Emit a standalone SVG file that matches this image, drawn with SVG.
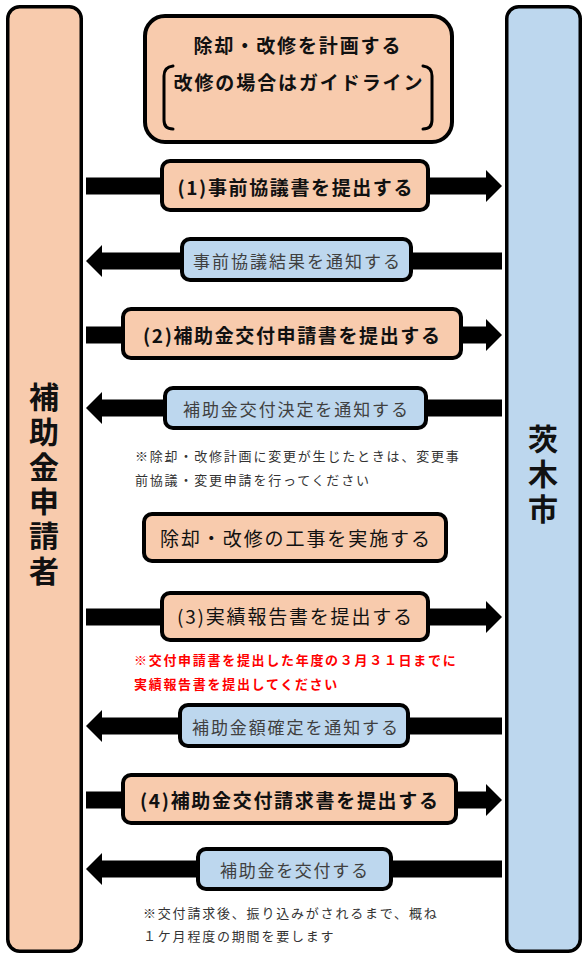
<svg xmlns="http://www.w3.org/2000/svg" width="586" height="963" viewBox="0 0 586 963">
<style>
text{font-family:"Noto Sans CJK JP","Noto Sans",sans-serif;}
.peach{fill:#F8CBAD;stroke:#000;stroke-width:4;}
.blue{fill:#BDD7EE;stroke:#000;stroke-width:4;}
.col{stroke-width:3.5;}
.arr{fill:#000;}
.tb{font-size:19px;font-weight:bold;fill:#111;text-anchor:middle;dominant-baseline:central;}
.tm{font-size:19px;font-weight:normal;fill:#111;text-anchor:middle;dominant-baseline:central;}
.tn{font-size:17px;fill:#404040;text-anchor:middle;dominant-baseline:central;}
.note{font-size:13px;fill:#333;letter-spacing:1.8px;dominant-baseline:central;}
.red{font-size:13px;font-weight:bold;fill:#FF0000;letter-spacing:1.7px;dominant-baseline:central;}
.vt{font-size:30px;font-weight:bold;fill:#111;writing-mode:vertical-rl;letter-spacing:4.7px;}
.br{fill:none;stroke:#000;stroke-width:3;stroke-linecap:round;}
</style>
<defs>
<path id="ra" d="M86,-8.5 H486 V-16 L502,0 L486,16 V8.5 H86 Z"/>
<path id="la" d="M502,-8.5 H102 V-16 L86,0 L102,16 V8.5 H502 Z"/>
</defs>

<g id="applicant">
<rect class="peach col" x="7.75" y="6.75" width="73.5" height="944.5" rx="12"/>
<text class="vt" x="44" y="382">補助金申請者</text>
</g>

<g id="city">
<rect class="blue col" x="506.75" y="6.75" width="73.5" height="944.5" rx="12"/>
<text class="vt" x="543" y="424">茨木市</text>
</g>

<g id="connectors" class="arr">
<use href="#ra" transform="translate(0,186)"/>
<use href="#la" transform="translate(0,261)"/>
<use href="#ra" transform="translate(0,335)"/>
<use href="#la" transform="translate(0,408)"/>
<use href="#ra" transform="translate(0,617)"/>
<use href="#la" transform="translate(0,726)"/>
<use href="#ra" transform="translate(0,800)"/>
<use href="#la" transform="translate(0,869)"/>
</g>

<g id="plan">
<rect class="peach" x="145" y="16" width="307" height="126" rx="20"/>
<text class="tb" x="297" y="44" font-size="18" textLength="207" lengthAdjust="spacing">除却・改修を計画する</text>
<text class="tb" x="298" y="81" font-size="18" textLength="249" lengthAdjust="spacing">改修の場合はガイドライン</text>
<path class="br" d="M173,66 Q164,67 164,76 V120 Q164,129 173,129"/>
<path class="br" d="M423,66 Q432,67 432,76 V120 Q432,129 423,129"/>
</g>

<g id="step1">
<rect class="peach" x="162" y="161" width="266" height="49" rx="8"/>
<text class="tb" x="295" y="186" textLength="235" lengthAdjust="spacing">(1)事前協議書を提出する</text>
</g>

<g id="result1">
<rect class="blue" x="182" y="239" width="229" height="41" rx="8"/>
<text class="tn" x="296.5" y="260" textLength="207" lengthAdjust="spacing">事前協議結果を通知する</text>
</g>

<g id="step2">
<rect class="peach" x="123" y="309" width="338" height="49" rx="8"/>
<text class="tb" x="291.5" y="334" textLength="297" lengthAdjust="spacing">(2)補助金交付申請書を提出する</text>
</g>

<g id="decision">
<rect class="blue" x="165" y="388" width="261" height="40" rx="8"/>
<text class="tn" x="295.5" y="408" textLength="225" lengthAdjust="spacing">補助金交付決定を通知する</text>
</g>

<g id="note1">
<text class="note" x="135" y="455">※除却・改修計画に変更が生じたときは、変更事</text>
<text class="note" x="135" y="479">前協議・変更申請を行ってください</text>
</g>

<g id="work">
<rect class="peach" x="144" y="514" width="302" height="47" rx="8"/>
<text class="tm" x="295" y="537" textLength="270" lengthAdjust="spacing">除却・改修の工事を実施する</text>
</g>

<g id="step3">
<rect class="peach" x="162" y="593" width="266" height="47" rx="8"/>
<text class="tm" x="294.5" y="615" textLength="235" lengthAdjust="spacing">(3)実績報告書を提出する</text>
</g>

<g id="note2">
<text class="red" x="134" y="659">※交付申請書を提出した年度の３月３１日までに</text>
<text class="red" x="134" y="683">実績報告書を提出してください</text>
</g>

<g id="confirm">
<rect class="blue" x="180" y="705" width="228" height="41" rx="8"/>
<text class="tn" x="295" y="726" textLength="206" lengthAdjust="spacing">補助金額確定を通知する</text>
</g>

<g id="step4">
<rect class="peach" x="123" y="775" width="333" height="48" rx="8"/>
<text class="tb" x="289" y="799" textLength="298" lengthAdjust="spacing">(4)補助金交付請求書を提出する</text>
</g>

<g id="payment">
<rect class="blue" x="198" y="849" width="193" height="40" rx="8"/>
<text class="tn" x="294" y="869" textLength="148" lengthAdjust="spacing">補助金を交付する</text>
</g>

<g id="note3">
<text class="note" x="143" y="912">※交付請求後、振り込みがされるまで、概ね</text>
<text class="note" x="143" y="935">１ケ月程度の期間を要します</text>
</g>
</svg>
